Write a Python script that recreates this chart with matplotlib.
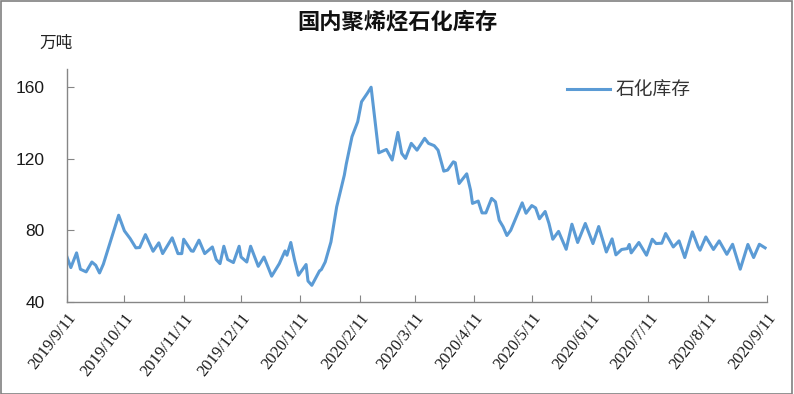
import matplotlib
matplotlib.use("Agg")
import matplotlib.pyplot as plt
import matplotlib.dates as mdates
import pandas as pd
from matplotlib.patches import Rectangle

plt.rcParams['font.family'] = ['Noto Sans CJK SC', 'DejaVu Sans']

# 石化库存 (万吨)
dates = [
    "2019-09-11", "2019-09-13", "2019-09-16", "2019-09-18", "2019-09-21", "2019-09-24",
    "2019-09-26", "2019-09-28", "2019-09-30", "2019-10-08", "2019-10-11", "2019-10-14",
    "2019-10-17", "2019-10-19", "2019-10-22", "2019-10-26", "2019-10-29", "2019-10-31",
    "2019-11-05", "2019-11-08", "2019-11-10", "2019-11-11", "2019-11-15", "2019-11-16",
    "2019-11-19", "2019-11-22", "2019-11-26", "2019-11-28", "2019-11-30", "2019-12-02",
    "2019-12-04", "2019-12-07", "2019-12-10", "2019-12-11", "2019-12-14", "2019-12-16",
    "2019-12-20", "2019-12-23", "2019-12-27", "2019-12-31", "2020-01-03", "2020-01-04",
    "2020-01-06", "2020-01-08", "2020-01-10", "2020-01-14", "2020-01-15", "2020-01-17",
    "2020-01-21", "2020-01-22", "2020-01-24", "2020-01-27", "2020-01-30", "2020-02-03",
    "2020-02-04", "2020-02-07", "2020-02-10", "2020-02-12", "2020-02-15", "2020-02-17",
    "2020-02-19", "2020-02-21", "2020-02-25", "2020-02-28", "2020-03-02", "2020-03-04",
    "2020-03-06", "2020-03-09", "2020-03-12", "2020-03-16", "2020-03-18", "2020-03-21",
    "2020-03-23", "2020-03-26", "2020-03-28", "2020-03-31", "2020-04-01", "2020-04-03",
    "2020-04-07", "2020-04-09", "2020-04-10", "2020-04-13", "2020-04-15", "2020-04-17",
    "2020-04-20", "2020-04-22", "2020-04-24", "2020-04-26", "2020-04-28", "2020-04-30",
    "2020-05-06", "2020-05-08", "2020-05-11", "2020-05-13", "2020-05-15", "2020-05-18",
    "2020-05-20", "2020-05-22", "2020-05-25", "2020-05-29", "2020-06-01", "2020-06-04",
    "2020-06-08", "2020-06-12", "2020-06-15", "2020-06-19", "2020-06-22", "2020-06-24",
    "2020-06-27", "2020-06-30", "2020-07-01", "2020-07-02", "2020-07-06", "2020-07-10",
    "2020-07-13", "2020-07-15", "2020-07-18", "2020-07-20", "2020-07-24", "2020-07-27",
    "2020-07-30", "2020-08-03", "2020-08-06", "2020-08-07", "2020-08-10", "2020-08-14",
    "2020-08-17", "2020-08-21", "2020-08-24", "2020-08-28", "2020-09-01", "2020-09-04",
    "2020-09-07", "2020-09-10",
]
stock = [
    65.1, 59.2, 67.4, 58.3, 56.8, 62.3,
    60.5, 56.2, 61.1, 88.4, 79.7, 75.4,
    70.2, 70.4, 77.6, 68.3, 73.0, 67.0,
    75.8, 67.0, 67.0, 75.0, 68.5, 68.3,
    74.5, 67.0, 70.7, 63.7, 61.4, 71.1,
    63.7, 62.0, 71.1, 65.1, 62.3, 71.1,
    59.9, 65.1, 54.4, 61.4, 68.5, 66.1,
    73.2, 63.3, 54.9, 60.9, 51.7, 49.3,
    57.3, 58.1, 62.3, 73.5, 93.1, 110.8,
    116.9, 132.2, 140.6, 151.7, 156.4, 159.8,
    141.5, 123.2, 125.1, 119.2, 134.6, 122.9,
    120.1, 128.5, 124.7, 131.3, 128.5, 127.2,
    124.7, 113.0, 113.6, 118.2, 117.7, 106.1,
    111.5, 102.4, 95.0, 96.3, 89.7, 89.7,
    97.8, 95.9, 85.6, 82.0, 77.1, 80.0,
    95.3, 89.5, 93.8, 92.5, 86.4, 90.5,
    83.8, 75.0, 79.4, 69.4, 83.4, 73.2,
    83.8, 72.6, 82.1, 67.9, 75.2, 66.3,
    69.3, 69.8, 72.1, 67.4, 73.2, 66.1,
    75.0, 72.6, 72.8, 78.2, 70.7, 74.1,
    64.8, 79.1, 70.7, 68.9, 76.3, 69.3,
    74.1, 66.6, 72.2, 58.3, 72.1, 64.8,
    72.2, 70.2,
]
tick_dates = ["2019-09-11", "2019-10-11", "2019-11-11", "2019-12-11", "2020-01-11",
              "2020-02-11", "2020-03-11", "2020-04-11", "2020-05-11", "2020-06-11",
              "2020-07-11", "2020-08-11", "2020-09-11"]
tick_labels = ["2019/9/11", "2019/10/11", "2019/11/11", "2019/12/11", "2020/1/11",
               "2020/2/11", "2020/3/11", "2020/4/11", "2020/5/11", "2020/6/11",
               "2020/7/11", "2020/8/11", "2020/9/11"]
y_ticks = [40, 80, 120, 160]

x = pd.to_datetime(dates)
xt = pd.to_datetime(tick_dates)

fig = plt.figure(figsize=(7.94, 3.94), dpi=100)
ax = fig.add_axes([0.0844, 0.2335, 0.8816, 0.5915])

ax.plot(x, stock, color='#5B9BD5', linewidth=2.2, label='石化库存')

ax.set_xlim(xt[0], xt[-1])
ax.set_ylim(40, 170)
ax.set_yticks(y_ticks)
ax.set_yticklabels([str(v) for v in y_ticks], fontsize=12.5,
                   family=['Liberation Sans', 'DejaVu Sans'], color='#1a1a1a')
ax.set_xticks(xt)
ax.set_xticklabels(tick_labels, rotation=52, ha='right', rotation_mode='anchor',
                   fontsize=12, family=['Liberation Serif', 'DejaVu Serif'], color='#1a1a1a')

for side in ['top', 'right']:
    ax.spines[side].set_visible(False)
for side in ['left', 'bottom']:
    ax.spines[side].set_color('#868686')
    ax.spines[side].set_linewidth(1.0)
ax.tick_params(axis='both', direction='in', length=5, color='#868686')
ax.tick_params(axis='y', pad=16)
ax.tick_params(axis='x', pad=6)

ax.legend(loc='upper left', bbox_to_anchor=(0.69, 1.025), frameon=False,
          fontsize=13.5, handlelength=2.3, handletextpad=0.3, labelcolor='#333333')

fig.text(0.5, 0.945, '国内聚烯烃石化库存', ha='center', va='center',
         fontsize=16, fontweight='bold', color='#111111')
fig.text(0.05, 0.89, '万吨', ha='left', va='center', fontsize=12, color='#222222')

fig.patches.append(Rectangle((0.001, 0.001), 0.997, 0.996, transform=fig.transFigure,
                             fill=False, edgecolor='#808080', linewidth=1.2))

fig.savefig('out.png', dpi=100)
